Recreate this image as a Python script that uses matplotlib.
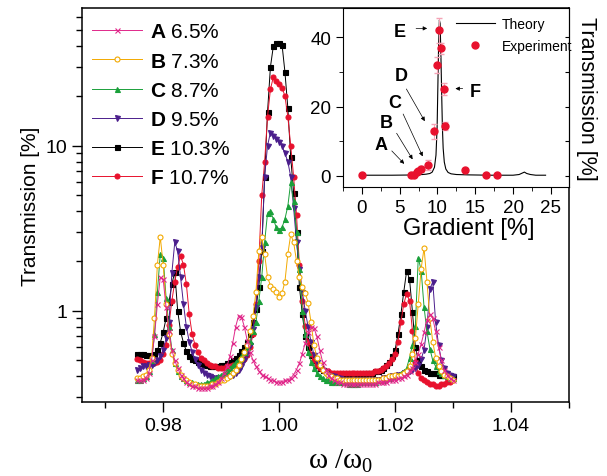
import numpy as np
import matplotlib
matplotlib.use('Agg')
import matplotlib.pyplot as plt
from matplotlib.ticker import FixedLocator, MultipleLocator, NullFormatter, LogLocator, FormatStrFormatter

plt.rcParams['font.family'] = 'Liberation Sans'
plt.rcParams['mathtext.fontset'] = 'custom'
plt.rcParams['mathtext.rm'] = 'Liberation Serif'
plt.rcParams['mathtext.it'] = 'Liberation Serif:italic'
plt.rcParams['mathtext.bf'] = 'Liberation Sans:bold'

# measurement grid, step 0.0005 from 0.9755 to 1.0300
omega = np.round(0.9755 + 0.0005 * np.arange(110), 4)

# transmission [%], one row per 0.005 of omega
trans_a = [0.38, 0.38, 0.38, 0.39, 0.42, 0.50, 0.70, 1.10, 1.60, 1.55,
           1.05, 0.75, 0.58, 0.50, 0.45, 0.41, 0.39, 0.37, 0.36, 0.35,
           0.35, 0.34, 0.34, 0.34, 0.34, 0.35, 0.35, 0.36, 0.37, 0.39,
           0.42, 0.46, 0.53, 0.64, 0.80, 0.93, 0.92, 0.80, 0.66, 0.56,
           0.50, 0.46, 0.43, 0.41, 0.40, 0.39, 0.38, 0.38, 0.37, 0.37,
           0.37, 0.38, 0.38, 0.39, 0.41, 0.44, 0.48, 0.55, 0.64, 0.74,
           0.80, 0.79, 0.70, 0.58, 0.49, 0.44, 0.41, 0.39, 0.38, 0.37,
           0.37, 0.36, 0.36, 0.36, 0.36, 0.36, 0.36, 0.36, 0.36, 0.36,
           0.36, 0.36, 0.36, 0.37, 0.37, 0.37, 0.37, 0.38, 0.38, 0.38,
           0.39, 0.39, 0.40, 0.41, 0.43, 0.45, 0.49, 0.55, 0.63, 0.74,
           0.88, 0.95, 0.90, 0.75, 0.60, 0.50, 0.44, 0.41, 0.39, 0.38]

trans_b = [0.39, 0.39, 0.40, 0.41, 0.44, 0.52, 0.90, 1.90, 2.80, 1.90,
           1.10, 0.72, 0.55, 0.48, 0.44, 0.41, 0.39, 0.38, 0.37, 0.36,
           0.36, 0.35, 0.35, 0.35, 0.35, 0.35, 0.36, 0.36, 0.37, 0.38,
           0.38, 0.39, 0.40, 0.42, 0.44, 0.47, 0.51, 0.56, 0.62, 0.75,
           0.93, 1.30, 2.30, 2.80, 2.20, 1.60, 1.42, 1.35, 1.30, 1.22,
           1.28, 1.50, 2.20, 2.90, 2.60, 2.00, 1.60, 1.40, 1.28, 1.12,
           0.85, 0.62, 0.52, 0.47, 0.44, 0.42, 0.41, 0.40, 0.39, 0.39,
           0.38, 0.38, 0.38, 0.38, 0.38, 0.38, 0.38, 0.38, 0.38, 0.38,
           0.38, 0.38, 0.38, 0.38, 0.38, 0.39, 0.39, 0.40, 0.40, 0.41,
           0.40, 0.41, 0.42, 0.43, 0.46, 0.55, 0.68, 1.10, 1.80, 2.40,
           1.50, 0.90, 0.65, 0.52, 0.46, 0.43, 0.41, 0.40, 0.39, 0.38]

trans_c = [0.38, 0.38, 0.39, 0.40, 0.43, 0.50, 0.72, 1.30, 2.20, 2.10,
           1.20, 0.80, 0.58, 0.48, 0.43, 0.40, 0.39, 0.38, 0.37, 0.37,
           0.36, 0.36, 0.36, 0.36, 0.37, 0.37, 0.38, 0.39, 0.40, 0.41,
           0.42, 0.43, 0.45, 0.47, 0.49, 0.51, 0.53, 0.56, 0.60, 0.66,
           0.75, 0.85, 1.15, 1.60, 2.60, 3.90, 4.00, 3.60, 3.20, 3.10,
           3.20, 3.60, 4.30, 6.00, 4.60, 3.00, 1.80, 1.00, 0.72, 0.56,
           0.49, 0.45, 0.42, 0.40, 0.39, 0.38, 0.38, 0.37, 0.37, 0.37,
           0.37, 0.37, 0.37, 0.36, 0.36, 0.36, 0.36, 0.37, 0.37, 0.37,
           0.37, 0.37, 0.37, 0.38, 0.38, 0.38, 0.39, 0.39, 0.40, 0.41,
           0.41, 0.42, 0.43, 0.45, 0.52, 0.62, 0.81, 2.10, 1.75, 1.05,
           0.75, 0.59, 0.50, 0.46, 0.43, 0.42, 0.41, 0.40, 0.39, 0.39]

trans_d = [0.44, 0.45, 0.46, 0.46, 0.47, 0.47, 0.48, 0.50, 0.53, 0.58,
           0.68, 0.85, 1.70, 2.60, 2.30, 1.60, 1.10, 0.80, 0.65, 0.56,
           0.51, 0.47, 0.44, 0.42, 0.41, 0.40, 0.39, 0.39, 0.39, 0.39,
           0.39, 0.40, 0.40, 0.41, 0.42, 0.44, 0.46, 0.50, 0.55, 0.62,
           0.78, 1.05, 1.60, 2.40, 6.50, 10.0, 12.0, 11.5, 11.0, 10.5,
           10.0, 9.00, 8.00, 6.50, 4.20, 2.60, 1.80, 1.30, 1.00, 0.80,
           0.65, 0.54, 0.49, 0.46, 0.44, 0.42, 0.41, 0.40, 0.40, 0.39,
           0.39, 0.38, 0.38, 0.38, 0.38, 0.38, 0.38, 0.38, 0.38, 0.38,
           0.38, 0.38, 0.38, 0.38, 0.38, 0.39, 0.39, 0.39, 0.40, 0.40,
           0.41, 0.41, 0.42, 0.42, 0.43, 0.44, 0.45, 0.47, 0.51, 0.58,
           0.80, 1.35, 1.50, 0.85, 0.62, 0.50, 0.45, 0.42, 0.41, 0.40]

trans_e = [0.55, 0.55, 0.55, 0.54, 0.54, 0.54, 0.55, 0.58, 0.64, 0.74,
           0.90, 1.13, 1.45, 1.72, 1.00, 0.75, 0.64, 0.57, 0.53, 0.51,
           0.50, 0.49, 0.48, 0.47, 0.47, 0.46, 0.46, 0.46, 0.46, 0.47,
           0.47, 0.48, 0.49, 0.50, 0.52, 0.54, 0.57, 0.60, 0.65, 0.72,
           0.85, 1.03, 1.40, 2.30, 6.50, 16.0, 30.0, 40.0, 42.0, 42.0,
           41.0, 28.0, 17.0, 8.50, 5.20, 3.00, 1.40, 0.95, 0.70, 0.60,
           0.54, 0.50, 0.47, 0.45, 0.44, 0.43, 0.42, 0.42, 0.41, 0.41,
           0.41, 0.41, 0.41, 0.41, 0.41, 0.41, 0.41, 0.41, 0.41, 0.42,
           0.42, 0.42, 0.43, 0.43, 0.44, 0.45, 0.47, 0.49, 0.53, 0.58,
           0.72, 0.95, 1.30, 1.75, 1.55, 0.98, 0.60, 0.50, 0.46, 0.44,
           0.43, 0.42, 0.42, 0.42, 0.41, 0.41, 0.41, 0.41, 0.40, 0.40]

trans_f = [0.51, 0.50, 0.49, 0.48, 0.48, 0.48, 0.48, 0.49, 0.50, 0.55,
           0.62, 0.82, 1.15, 1.50, 1.85, 2.15, 1.90, 1.45, 0.95, 0.72,
           0.62, 0.56, 0.52, 0.50, 0.48, 0.47, 0.46, 0.46, 0.45, 0.45,
           0.45, 0.46, 0.46, 0.47, 0.47, 0.48, 0.49, 0.51, 0.54, 0.60,
           0.72, 1.10, 2.00, 5.00, 8.00, 15.0, 22.0, 26.0, 24.5, 23.5,
           22.5, 20.0, 15.0, 10.0, 6.50, 3.80, 1.90, 1.15, 0.81, 0.65,
           0.55, 0.50, 0.47, 0.45, 0.44, 0.43, 0.43, 0.42, 0.42, 0.42,
           0.42, 0.42, 0.42, 0.42, 0.42, 0.42, 0.42, 0.42, 0.42, 0.42,
           0.42, 0.42, 0.43, 0.43, 0.44, 0.45, 0.46, 0.48, 0.51, 0.55,
           0.65, 0.85, 1.10, 1.27, 1.15, 0.75, 0.49, 0.42, 0.39, 0.38,
           0.37, 0.36, 0.36, 0.35, 0.35, 0.36, 0.36, 0.37, 0.37, 0.38]

letters = ['A', 'B', 'C', 'D', 'E', 'F']
gradients = ['6.5%', '7.3%', '8.7%', '9.5%', '10.3%', '10.7%']

# inset: transmission at the central frequency vs. gradient
theory_x = [0, 2, 4, 6, 7, 8, 8.5, 9, 9.3, 9.6, 9.8, 9.95, 10.05, 10.15, 10.25,
            10.35, 10.45, 10.55, 10.65, 10.75, 10.9, 11.1, 11.4, 11.8, 12.5, 14,
            17, 20, 20.8, 21.2, 21.5, 21.8, 22.3, 23, 24.3]
theory_y = [0.2, 0.2, 0.2, 0.25, 0.3, 0.4, 0.5, 0.7, 1.1, 2.5, 6, 14, 26, 38, 45,
            44, 35, 24, 14, 8, 4, 2, 1, 0.6, 0.4, 0.3,
            0.2, 0.2, 0.4, 0.8, 1.1, 0.7, 0.4, 0.2, 0.2]
exp_grad = [0, 6.5, 6.9, 7.25, 7.45, 7.8, 8.7, 9.5, 10.0, 10.25, 10.5, 10.8, 11.0, 13.7, 16.4, 17.9]
exp_trans = [0.2, 0.2, 0.4, 1.0, 1.4, 2.0, 3.1, 12.9, 32.0, 42.0, 36.8, 25.0, 14.4, 1.6, 0.2, 0.2]
exp_err = [0.3, 0.3, 0.3, 0.4, 0.5, 0.8, 1.4, 2.2, 2.4, 3.5, 1.5, 1.7, 1.2, 0.5, 0.3, 0.3]

fig = plt.figure(figsize=(6.07, 4.77), dpi=100)
ax = fig.add_axes([0.1351, 0.1551, 0.8023, 0.8254])

styles = [
    (trans_a, 'x', '#E0288A', '#E0288A', 6),
    (trans_b, 'o', '#F2A900', 'white', 5),
    (trans_c, '^', '#1AA03A', '#1AA03A', 4),
    (trans_d, 'v', '#4B1E8C', '#4B1E8C', 3),
    (trans_e, 's', 'black', 'black', 1),
    (trans_f, 'o', '#E8112D', '#E8112D', 2),
]
for (vals, mk, col, face, z), let, grad in zip(styles, letters, gradients):
    ax.plot(omega, vals, marker=mk, color=col, mfc=face, mec=col, ms=3.6, mew=0.8,
            lw=0.7, zorder=z, label=r'$\mathbf{%s}$ %s' % (let, grad))

ax.set_yscale('log')
ax.set_xlim(0.966, 1.05)
ax.set_ylim(0.28, 68)
ax.xaxis.set_major_locator(FixedLocator([0.98, 1.00, 1.02, 1.04]))
ax.xaxis.set_major_formatter(FormatStrFormatter('%.2f'))
ax.xaxis.set_minor_locator(FixedLocator([0.97, 0.99, 1.01, 1.03, 1.05]))
ax.yaxis.set_major_locator(FixedLocator([1, 10]))
ax.set_yticklabels(['1', '10'])
ax.yaxis.set_minor_locator(LogLocator(base=10, subs=np.arange(2, 10)))
ax.yaxis.set_minor_formatter(NullFormatter())
ax.tick_params(which='both', direction='out', top=False, right=False, width=1)
ax.tick_params(which='major', length=7, labelsize=14)
ax.tick_params(which='minor', length=4)
for s in ax.spines.values():
    s.set_linewidth(1.1)

ax.set_ylabel('Transmission [%]', fontsize=15, labelpad=4)
ax.set_xlabel(r'ω /ω$_\mathrm{0}$', fontfamily='Liberation Serif', fontsize=21)
ax.xaxis.set_label_coords(0.532, -0.115)

ax.legend(loc='upper left', bbox_to_anchor=(-0.005, 0.996), frameon=False, fontsize=15,
          handlelength=2.4, handletextpad=0.4, labelspacing=0.49, borderaxespad=0.2,
          numpoints=1)

# inset
ax_in = fig.add_axes([0.5651, 0.6059, 0.3723, 0.3746])
ax_in.plot(theory_x, theory_y, color='black', lw=0.8, label='Theory')
ax_in.errorbar(exp_grad, exp_trans, yerr=exp_err, fmt='none', ecolor='#F4A3B5',
               elinewidth=0.8, capsize=2)
ax_in.plot(exp_grad, exp_trans, 'o', color='#E8112D', ms=5, label='Experiment')
ax_in.set_xlim(-2.5, 27.4)
ax_in.set_ylim(-3.2, 48.4)
ax_in.xaxis.set_major_locator(MultipleLocator(5))
ax_in.xaxis.set_minor_locator(MultipleLocator(2.5))
ax_in.yaxis.set_major_locator(MultipleLocator(20))
ax_in.yaxis.set_minor_locator(MultipleLocator(10))
ax_in.tick_params(which='both', direction='out', top=False, right=False, labelsize=13.5)
ax_in.tick_params(which='major', length=5)
ax_in.tick_params(which='minor', length=3)
ax_in.set_xlabel('Gradient [%]', fontsize=17)
ax_in.xaxis.set_label_coords(0.556, -0.17)

right = ax_in.secondary_yaxis('right')
right.yaxis.set_major_locator(MultipleLocator(10))
right.tick_params(direction='in', length=3, labelright=False)
right.set_ylabel('Transmission [%]', fontsize=15.5, rotation=270, labelpad=20)

ax_in.legend(loc='upper left', bbox_to_anchor=(0.48, 0.975), frameon=False, fontsize=10,
             handlelength=2.8, handletextpad=0.5, labelspacing=0.55, borderaxespad=0.0,
             borderpad=0.3)

arrow = dict(arrowstyle='-|>', color='black', lw=0.5, mutation_scale=6)
notes = [
    ('E', (5.05, 41.7), (6.8, 42.6), (9.0, 42.6)),
    ('F', (15.0, 24.3), (13.7, 25.2), (12.0, 25.2)),
    ('D', (5.2, 29.0), (5.7, 25.8), (8.5, 15.1)),
    ('C', (4.4, 21.2), (5.3, 18.6), (8.2, 4.9)),
    ('B', (3.2, 15.4), (4.4, 13.0), (6.9, 4.1)),
    ('A', (2.5, 9.0), (3.7, 7.8), (5.85, 2.9)),
]
for let, txt_xy, start, end in notes:
    ax_in.text(txt_xy[0], txt_xy[1], let, fontsize=13, fontweight='bold', ha='center', va='center')
    ax_in.annotate('', xy=end, xytext=start, arrowprops=arrow)

fig.savefig('out.png', dpi=100)
